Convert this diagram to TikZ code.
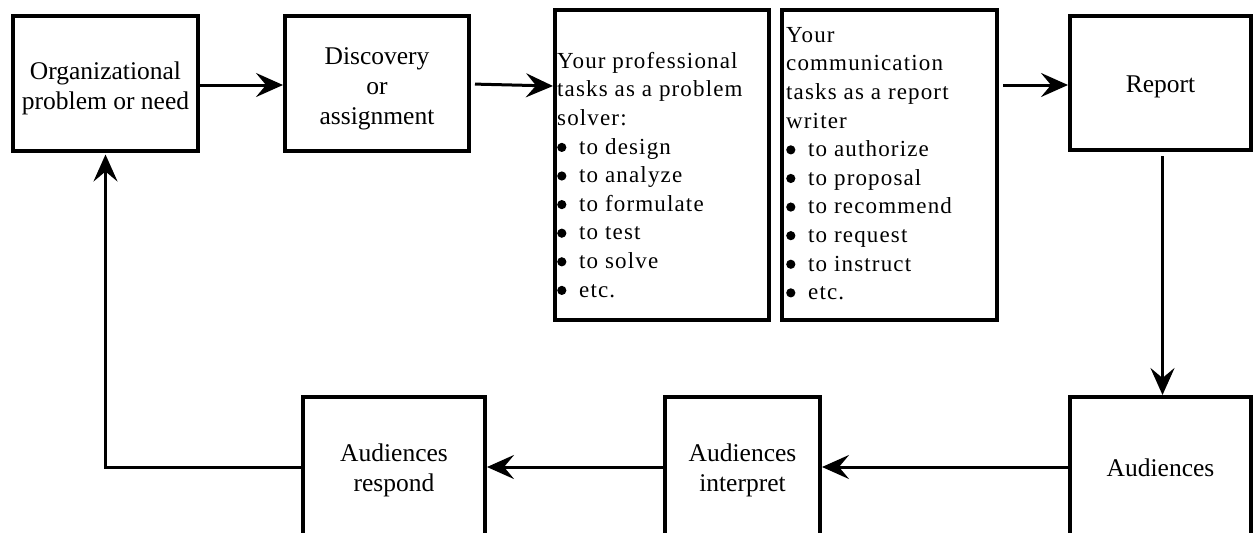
\documentclass[tikz,border=0pt]{standalone}
\usepackage{fontspec}
\setmainfont{Liberation Serif}
\usetikzlibrary{arrows.meta,calc}
\begin{document}
\begin{tikzpicture}[x=1pt,y=-1pt,
  box/.style={draw, line width=4pt, inner sep=0pt},
  title/.style={align=center, inner sep=0pt, font=\fontsize{25.5}{30}\selectfont},
  conn/.style={line width=3pt, -{Stealth[length=27pt,width=24pt,inset=10pt]}},
  listtext/.style={align=left, inner sep=0pt, anchor=north west,
    font=\fontsize{23}{28.6}\selectfont\addfontfeature{LetterSpace=5}}]
\clip (0,0) rectangle (1254,533);
\useasboundingbox (0,0) rectangle (1254,533);
\newcommand{\bl}{\makebox[22pt][l]{\tikz[baseline=0pt,x=1pt,y=1pt]{\fill (4.6,6.8) circle (4.6);}}}
% top row
\node[box, minimum width=185pt, minimum height=135pt] (org) at (105.5,83) {};
\node[title] (orgt) at ($(org)+(0,5)$) {Organizational\\problem or need};
\node[box, minimum width=184pt, minimum height=135pt] (disc) at (377,83) {};
\node[title] (disct) at ($(disc)+(0,6)$) {Discovery\\or\\assignment};
\node[box, minimum width=214pt, minimum height=310pt] (p3) at (662,165) {};
\node[listtext] (t3) at (557,52) {Your professional\\tasks as a problem\\solver:\\\bl to design\\\bl to analyze\\\bl to formulate\\\bl to test\\\bl to solve\\\bl etc.};
\node[box, minimum width=215pt, minimum height=310pt] (p4) at (889.5,165) {};
\node[listtext] (t4) at (786,27) {Your\\communication\\tasks as a report\\writer\\\bl to authorize\\\bl to proposal\\\bl to recommend\\\bl to request\\\bl to instruct\\\bl etc.};
\node[box, minimum width=181pt, minimum height=134pt] (rep) at (1160.5,83) {};
\node[title] (rept) at ($(rep)+(0,4)$) {Report};
% bottom row (cut off by the page edge)
\node[box, minimum width=181pt, minimum height=142pt] (aud) at (1160.5,468) {};
\node[title] (audt) at (aud) {Audiences};
\node[box, minimum width=155pt, minimum height=146pt] (interp) at (742.5,470) {};
\node[title] (interpt) at (interp) {Audiences\\interpret};
\node[box, minimum width=182pt, minimum height=146pt] (resp) at (394,470) {};
\node[title] (respt) at (resp) {Audiences\\respond};
% connectors
\draw[conn] ($(org.east)+(0,2)$) -- ($(disc.west)+(0,2)$);
\draw[conn, shorten <=4pt] ($(disc.east)+(0,1)$) -- ($(disc.east -| p3.west)+(0,3)$);
\draw[conn, shorten <=4pt] ($(p4.east |- rep.west)+(0,2)$) -- ($(rep.west)+(0,2)$);
\draw[conn, shorten <=4pt] ($(rep.south)+(2,0)$) -- ($(aud.north)+(2,0)$);
\draw[conn] ($(aud.west)+(0,-1)$) -- ($(interp.east |- aud.west)+(0,-1)$);
\draw[conn] ($(interp.west)+(0,-3)$) -- ($(resp.east |- interp.west)+(0,-3)$);
\draw[conn, shorten >=2pt] ($(resp.west)+(0,-3)$) -| (org.south);
\end{tikzpicture}
\end{document}
